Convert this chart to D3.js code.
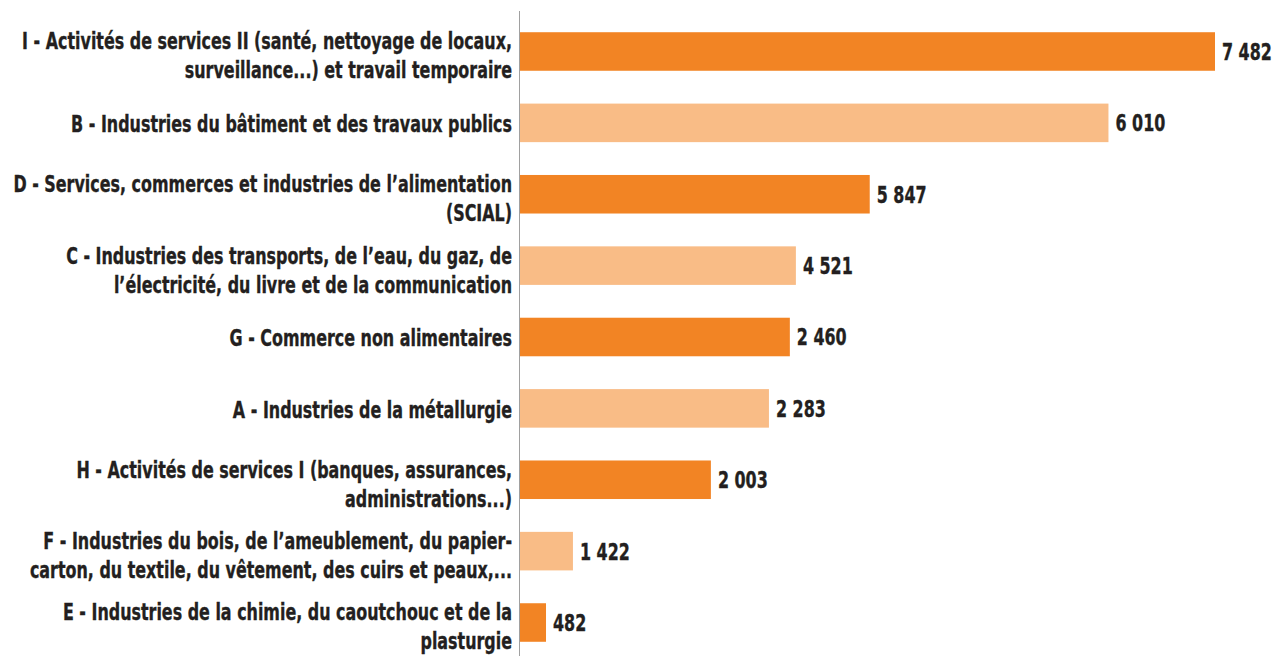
<!DOCTYPE html>
<html lang="fr">
    <head>
        <meta charset="utf-8">
        <title>Branches</title>
        <script type="text/javascript" src="https://cdn.jsdelivr.net/npm/d3@7"></script>
        <style type="text/css">
            body { margin: 0; background: white; }
            text { font-family: "Liberation Sans Narrow", "DejaVu Sans Condensed", sans-serif; font-weight: bold; }
        </style>
    </head>
    <body>
        <script type="text/javascript">

            // categories, top to bottom (each entry = lines of the label)
            var categories = [
              ["I - Activités de services II (santé, nettoyage de locaux,", "surveillance...) et travail temporaire"],
              ["B - Industries du bâtiment et des travaux publics"],
              ["D - Services, commerces et industries de l’alimentation", "(SCIAL)"],
              ["C - Industries des transports, de l’eau, du gaz, de", "l’électricité, du livre et de la communication"],
              ["G - Commerce non alimentaires"],
              ["A - Industries de la métallurgie"],
              ["H - Activités de services I (banques, assurances,", "administrations...)"],
              ["F - Industries du bois, de l’ameublement, du papier-", "carton, du textile, du vêtement, des cuirs et peaux,..."],
              ["E - Industries de la chimie, du caoutchouc et de la", "plasturgie"]
            ];

            // numbers printed next to the bars
            var values = [7482, 6010, 5847, 4521, 2460, 2283, 2003, 1422, 482];

            // bar lengths as drawn in the picture (not proportional to the printed numbers)
            var barValues = [7482, 6335, 3765, 2970, 2905, 2680, 2055, 570, 280];

            var colorscheme = ["#F28424", "#F9BC86"];

            var w = 1275;
            var h = 656;
            var axisX = 519.5;

            var fmt = function(d) {
              return d3.format(",")(d).replace(/,/g, " ");
            };

            var ids = d3.range(categories.length);

            var xScale = d3.scaleLinear()
                .domain([0, 7482])
                .range([520, 1215]);

            var yScale = d3.scaleBand()
                .domain(ids)
                .range([15.8, 658.2])
                .paddingInner(0.46)
                .paddingOuter(0.23);

            var svg = d3.select("body")
                  .append("svg")
                  .attr("width", w)
                  .attr("height", h);

            svg.append("rect")
              .attr("width", "100%")
              .attr("height", "100%")
              .attr("fill", "white");

            // bars
            svg.selectAll("rect.bar")
              .data(barValues)
              .enter()
              .append("rect")
              .attr("class", "bar")
              .attr("x", xScale(0))
              .attr("y", function(d, i) { return yScale(i); })
              .attr("width", function(d) { return xScale(d) - xScale(0); })
              .attr("height", yScale.bandwidth())
              .attr("fill", function(d, i) { return colorscheme[i % 2]; });

            // axis line
            svg.append("line")
              .attr("x1", axisX)
              .attr("x2", axisX)
              .attr("y1", 11)
              .attr("y2", h)
              .attr("stroke", "#a0a0a0")
              .attr("stroke-width", 1);

            // category labels
            var lineH = 29;
            var labels = svg.append("g").attr("class", "labels");

            var groups = labels.selectAll("g")
              .data(categories)
              .enter()
              .append("g");

            groups.each(function(lines, i) {
              var cy = yScale(i) + yScale.bandwidth() / 2 + (lines.length > 1 ? 4 : 1);
              d3.select(this).selectAll("text")
                .data(lines)
                .enter()
                .append("text")
                .attr("x", 0)
                .attr("y", function(d, j) {
                  return cy + (j - (lines.length - 1) / 2) * lineH + 8.5;
                })
                .attr("text-anchor", "end")
                .attr("font-size", "23px")
                .attr("fill", "#231F20")
                .attr("stroke", "#231F20")
                .attr("stroke-width", 0.35)
                .text(function(d) { return d; });
            });

            // squeeze labels to the condensed width of the original
            var ref = groups.filter(function(d, i) { return i == 0; }).select("text").node();
            var sx = 490 / ref.getComputedTextLength();
            groups.attr("transform", "translate(512,0) scale(" + sx + ",1)");

            // value labels
            var vals = svg.selectAll("text.val")
              .data(values)
              .enter()
              .append("text")
              .attr("class", "val")
              .attr("x", 0)
              .attr("y", function(d, i) {
                return yScale(i) + yScale.bandwidth() / 2 + 8.5;
              })
              .attr("font-size", "23px")
              .attr("fill", "#231F20")
              .attr("stroke", "#231F20")
              .attr("stroke-width", 0.35)
              .text(function(d) { return fmt(d); });

            vals.attr("transform", function(d, i) {
              return "translate(" + (xScale(barValues[i]) + 7) + ",0) scale(" + sx + ",1)";
            });

        </script>
    </body>
</html>
